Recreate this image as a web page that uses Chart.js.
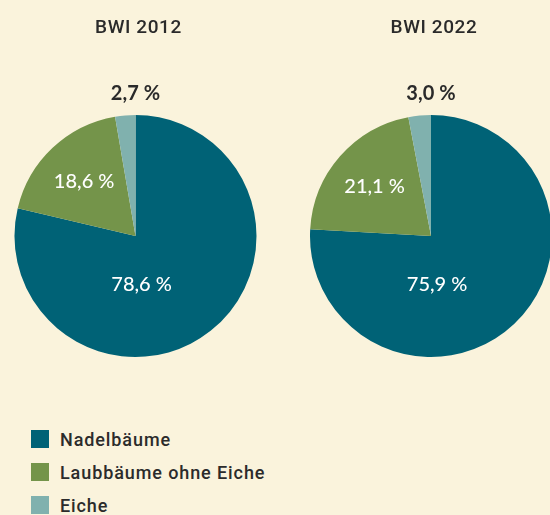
<!DOCTYPE html>
<html><head><meta charset="utf-8">
<script src="https://cdn.jsdelivr.net/npm/chart.js@4/dist/chart.umd.min.js"></script>
<style>
html,body{margin:0;padding:0;width:550px;height:515px;overflow:hidden;background:#faf3dc;}
#wrap{position:relative;width:550px;height:515px;}
.cv{position:absolute;top:0;}
#legend{position:absolute;left:31px;top:429px;font-family:Roboto,"Liberation Sans",Arial,sans-serif;font-weight:500;font-size:18px;letter-spacing:0.9px;color:#2b2b2b;}
.li{display:flex;align-items:center;height:20px;margin-bottom:13px;}
.sw{width:18px;height:18px;margin-right:11px;}
</style></head>
<body><div id="wrap">
<div class="cv" style="left:0;width:275px;height:400px;"><canvas id="c1"></canvas></div>
<div class="cv" style="left:275px;width:300px;height:400px;"><canvas id="c2"></canvas></div>
<div id="legend"></div>
</div>
<script>
const categories = ["Nadelbäume", "Laubbäume ohne Eiche", "Eiche"];
const colors = ["#006276", "#74944a", "#80b1ae"];
const titles = ["BWI 2012", "BWI 2022"];
const values2012 = [78.6, 18.6, 2.7];
const values2022 = [75.9, 21.1, 3.0];
const labels2012 = ["78,6\u202F%", "18,6\u202F%", "2,7\u202F%"];
const labels2022 = ["75,9\u202F%", "21,1\u202F%", "3,0\u202F%"];

const labelPlugin = {
  id: 'pieLabels',
  afterDatasetsDraw(chart) {
    const ctx = chart.ctx;
    const meta = chart.getDatasetMeta(0);
    const lbls = chart.options.plugins.pieLabels.labels;
    const arc0 = meta.data[0];
    const cx = arc0.x, cy = arc0.y, R = arc0.outerRadius;
    ctx.save();
    ctx.textAlign = 'center';
    ctx.textBaseline = 'middle';
    ctx.fillStyle = '#2a2a2a';
    ctx.font = '500 19px Roboto, sans-serif';
    ctx.letterSpacing = '0.6px';
    ctx.fillText(chart.options.plugins.pieLabels.title, cx + 3, 28);
    meta.data.forEach((arc, i) => {
      let x, y, col = '#ffffff';
      if (i === 0) { x = cx + 0.05 * R; y = cy + 0.405 * R; }
      else if (i === 1) {
        const a = (arc.startAngle + arc.endAngle) / 2;
        x = cx + Math.cos(a) * 0.62 * R; y = cy + Math.sin(a) * 0.62 * R;
      } else { x = cx; y = cy - R - 21; col = '#2a2a2a'; }
      ctx.fillStyle = col;
      ctx.letterSpacing = '1px';
      ctx.font = (i === 2 ? '700 ' : '500 ') + '20px Lato, sans-serif';
      ctx.fillText(lbls[i], x, y);
    });
    ctx.restore();
  }
};

function makePie(id, values, lbls, title, pad) {
  new Chart(document.getElementById(id), {
    type: 'pie',
    data: { labels: categories, datasets: [{ data: values, backgroundColor: colors, borderWidth: 0 }] },
    options: {
      responsive: true, maintainAspectRatio: false, animation: false,
      layout: { padding: pad },
      plugins: { legend: { display: false }, tooltip: { enabled: false },
        pieLabels: { labels: lbls, title: title } }
    },
    plugins: [labelPlugin]
  });
}
makePie('c1', values2012, labels2012, titles[0], { left: 14.5, right: 18.5, top: 115, bottom: 43 });
makePie('c2', values2022, labels2022, titles[1], { left: 35, right: 23, top: 115, bottom: 43 });

const lg = document.getElementById('legend');
categories.forEach((c, i) => {
  const d = document.createElement('div'); d.className = 'li';
  d.innerHTML = '<div class="sw" style="background:' + colors[i] + '"></div><span>' + c + '</span>';
  lg.appendChild(d);
});
</script>
</body></html>
